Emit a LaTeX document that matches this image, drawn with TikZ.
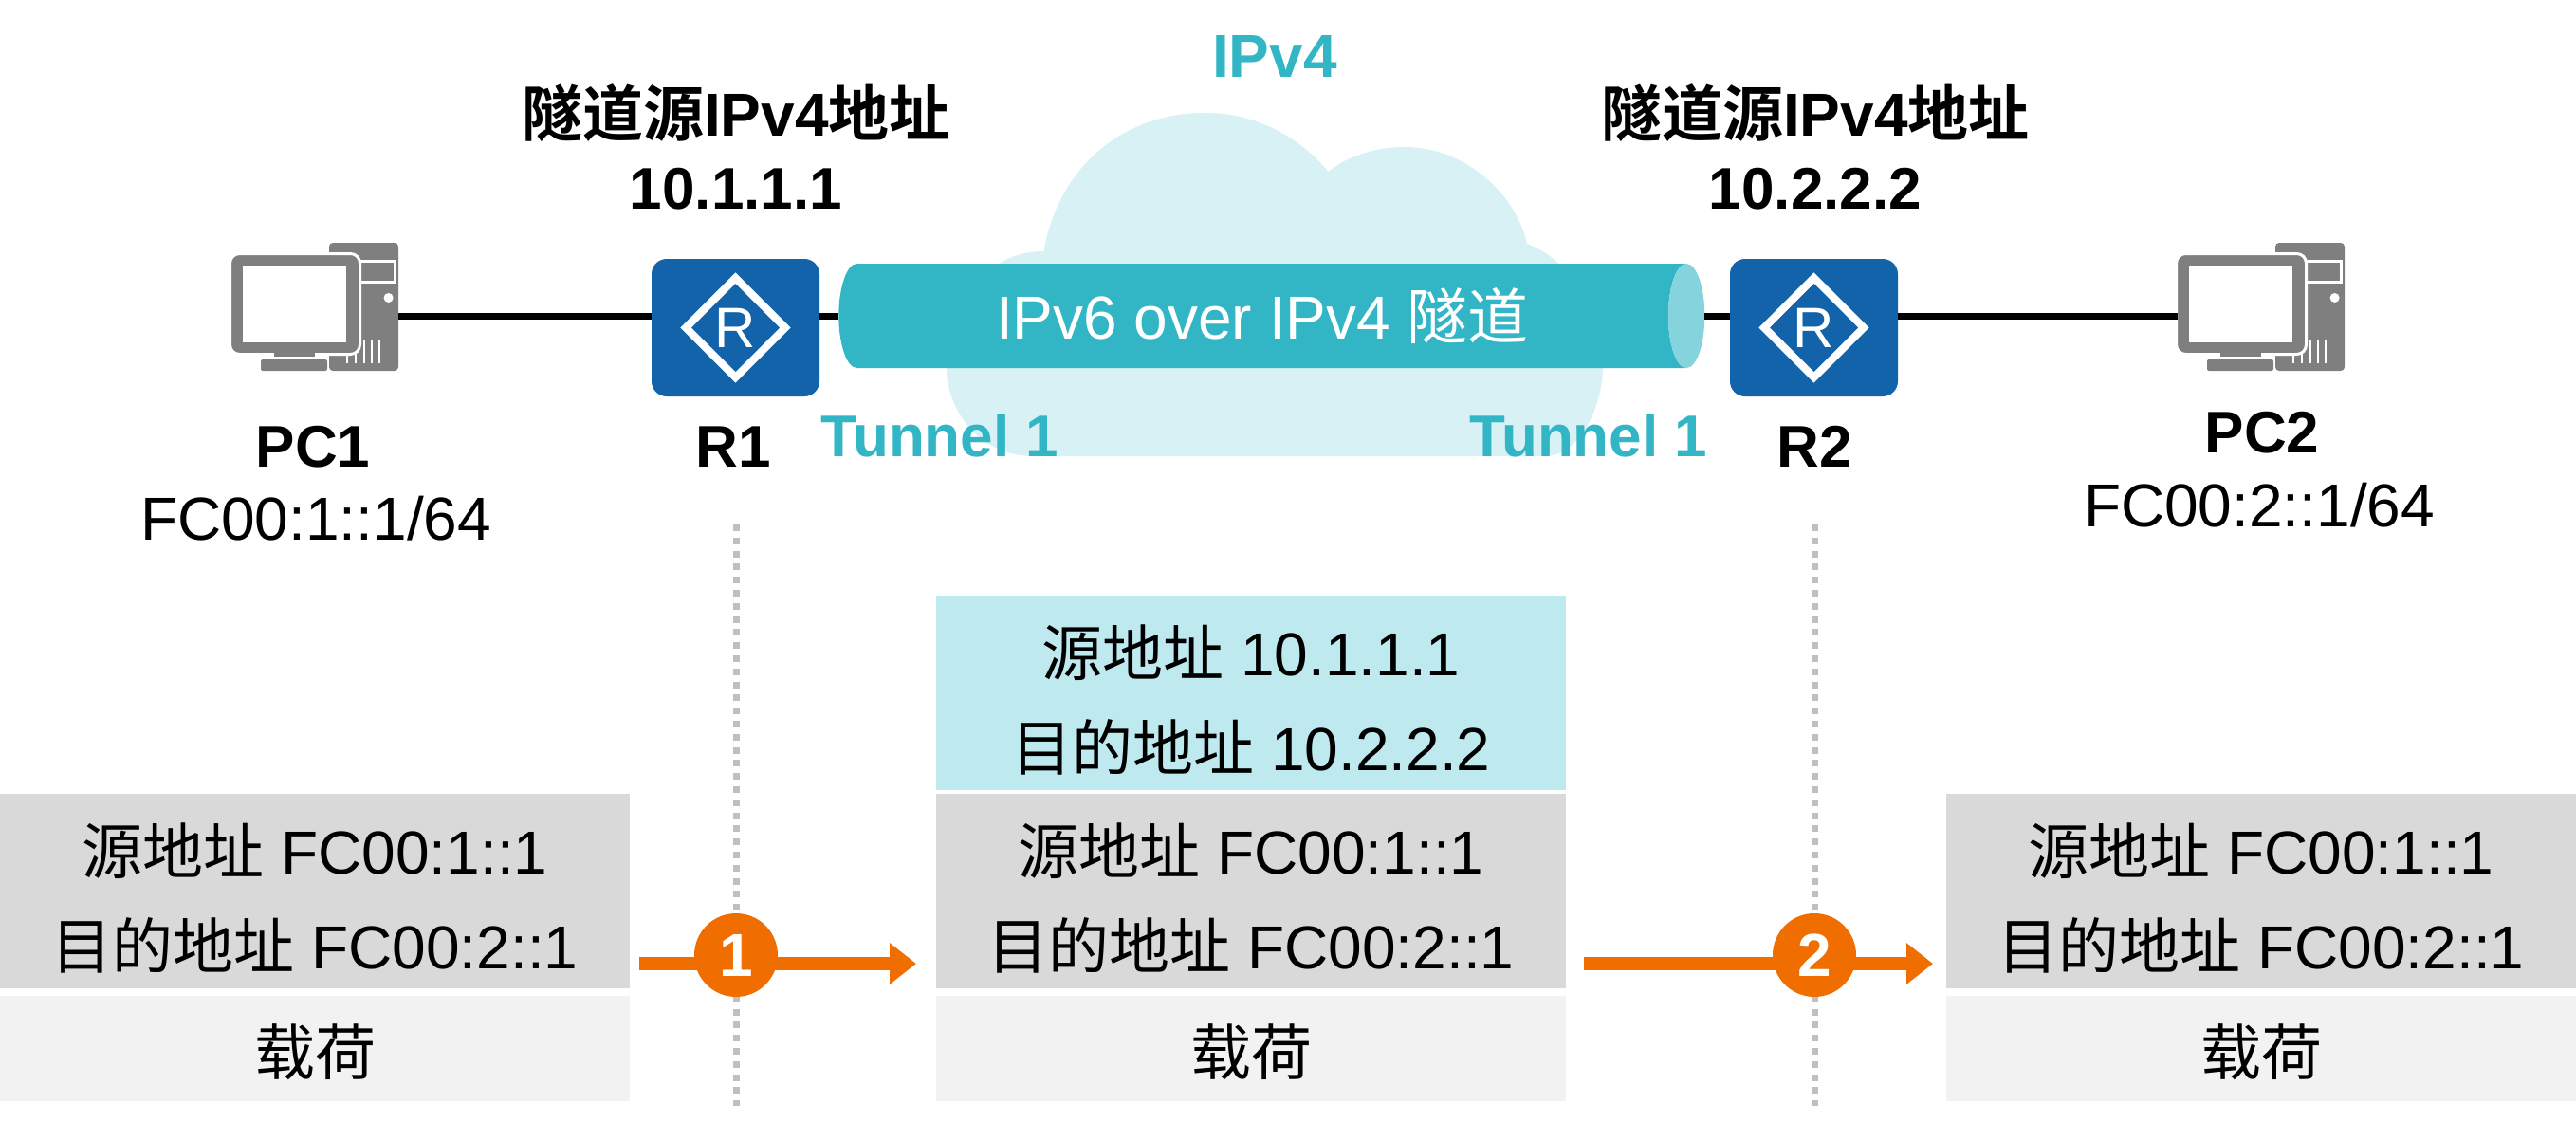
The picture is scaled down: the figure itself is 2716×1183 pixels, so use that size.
\documentclass[tikz,border=0pt]{standalone}
\usepackage{fontspec}
\usetikzlibrary{shapes.geometric,arrows.meta}
\setmainfont{Liberation Sans}
\newfontfamily\zhfont{Noto Sans CJK SC}[BoldFont=Noto Sans CJK SC Bold]
\newcommand{\zh}[1]{{\zhfont #1}}
\newcommand{\pktstrut}{\rule[-9pt]{0pt}{50pt}}
\newcommand{\loadstrut}{\rule{0pt}{31pt}}
\newcommand{\addrstrut}{\rule[-10pt]{0pt}{38.5pt}}
\definecolor{tunnelteal}{RGB}{50, 181, 197}
\definecolor{tunnelend}{RGB}{133, 211, 220}
\definecolor{cloudcyan}{RGB}{215, 241, 245}
\definecolor{outercyan}{RGB}{190, 233, 239}
\definecolor{routerblue}{RGB}{18, 99, 169}
\definecolor{pcgray}{RGB}{127, 127, 127}
\definecolor{headgray}{RGB}{217, 217, 217}
\definecolor{loadgray}{RGB}{242, 242, 242}
\definecolor{dotgray}{RGB}{191, 191, 191}
\definecolor{steporange}{RGB}{240, 110, 0}

\begin{document}
\begin{tikzpicture}[
        x=0.5pt,
        y=-0.5pt,
        every node/.style={inner sep=0pt, outer sep=0pt, font=\fontsize{32}{38.5}\selectfont},
        boldlabel/.style={anchor=base, font=\fontsize{31}{38.5}\selectfont\bfseries},
        plainlabel/.style={anchor=base},
        teallabel/.style={boldlabel, text=tunnelteal},
        addrlabel/.style={align=center, font=\fontsize{32}{38.5}\selectfont\bfseries},
        routerbox/.style={rectangle, rounded corners=8pt, fill=routerblue,
            minimum width=88.5pt, minimum height=72.5pt},
        routermark/.style={diamond, aspect=1, draw=white, line width=4pt, miter limit=10,
            minimum width=52.4pt, minimum height=52.4pt, text=white,
            font=\fontsize{30}{36}\selectfont},
        pcbox/.style={rectangle, anchor=north west, minimum width=88pt, minimum height=67.5pt},
        pcicon/.pic={
            \fill[pcgray, rounded corners=2pt] (103,0) rectangle (176,135);
            \draw[white, line width=1.5pt] (135,19) rectangle (172,41);
            \fill[white] (165.6,58) circle (5);
            \foreach \vx in {122,131,140,148,156}
                \draw[white, line width=1pt] (\vx,102) -- (\vx,127);
            \draw[fill=pcgray, draw=white, line width=1.5pt, rounded corners=5pt]
                (-1.5,11.5) rectangle (135.5,117.5);
            \fill[white] (11.5,24) rectangle (121,105);
            \fill[pcgray] (45,116) rectangle (87.5,120);
            \fill[pcgray, rounded corners=1pt] (31,123) rectangle (101,135);
        },
        tunnelpipe/.style={cylinder, shape border rotate=0, aspect=0.65,
            cylinder uses custom fill, cylinder body fill=tunnelteal, cylinder end fill=tunnelend,
            minimum width=55pt, minimum height=456.5pt, text=white},
        linkline/.style={line width=3.5pt, black},
        dotline/.style={line width=3.5pt, dotgray, dash pattern=on 3.5pt off 3.4pt},
        flowarrow/.style={line width=7pt, steporange, -{Triangle[width=21pt,length=14pt]}},
        stepdot/.style={circle, fill=steporange, minimum size=44pt, text=white,
            font=\fontsize{32}{38.5}\selectfont\bfseries},
        packetbox/.style={rectangle, minimum width=332pt, align=center,
            font=\fontsize{32}{50}\selectfont},
        outerhead/.style={packetbox, fill=outercyan, minimum height=102.5pt},
        innerhead/.style={packetbox, fill=headgray, minimum height=102.5pt},
        payload/.style={packetbox, fill=loadgray, minimum height=55.3pt}
    ]
    \useasboundingbox (0,0) rectangle (2716,1183);

    % cloud behind the tunnel
    \fill[cloudcyan] (1100.5,265) .. controls (1115,180) and (1180,119) .. (1271,119)
        .. controls (1330,119) and (1375,150) .. (1400.5,181)
        .. controls (1420,165) and (1450,155) .. (1480,155)
        .. controls (1550,155) and (1600,210) .. (1610,257)
        .. controls (1650,272) and (1690,320) .. (1690,385)
        .. controls (1690,430) and (1665,481) .. (1628,481)
        -- (1090,481) .. controls (1030,481) and (998,430) .. (998,388)
        .. controls (998,320) and (1040,265) .. (1100.5,265) -- cycle;

    \node[tunnelpipe] (tunnel) at (1331,333) {IPv6 over IPv4 \zh{隧道}};
    \node[routerbox] (r1) at (775.5,345.5) {};
    \node[routerbox] (r2) at (1912.5,345.5) {};
    \node[routermark] (r1mark) at (r1) {R};
    \node[routermark] (r2mark) at (r2) {R};
    \node[pcbox] (pc1) at (244,256) {};
    \node[pcbox] (pc2) at (2296,256) {};
    \pic at (pc1.north west) {pcicon};
    \pic at (pc2.north west) {pcicon};

    \draw[linkline] (pc1.east |- tunnel) -- (r1.west |- tunnel);
    \draw[linkline] (r1.east |- tunnel) -- (tunnel.west |- tunnel);
    \draw[linkline] (tunnel.east |- tunnel) -- (r2.west |- tunnel);
    \draw[linkline] (r2.east |- tunnel) -- (pc2.west |- tunnel);

    \node[teallabel, font=\fontsize{32}{38.5}\selectfont\bfseries] (ipv4) at (1344,81) {IPv4};
    \node[addrlabel] (r1addr) at (776,163) {\addrstrut\zh{隧道源}IPv4\zh{地址}\\\addrstrut{\fontsize{31}{38.5}\selectfont 10.1.1.1}};
    \node[addrlabel] (r2addr) at (1914,163) {\addrstrut\zh{隧道源}IPv4\zh{地址}\\\addrstrut{\fontsize{31}{38.5}\selectfont 10.2.2.2}};
    \node[teallabel] (tunnela) at (991,481.7) {Tunnel 1};
    \node[teallabel] (tunnelb) at (1675,481.7) {Tunnel 1};
    \node[boldlabel] (pc1label) at (330,492.7) {PC1};
    \node[boldlabel] (r1label) at (773,492.7) {R1};
    \node[boldlabel] (r2label) at (1913,492.7) {R2};
    \node[boldlabel] (pc2label) at (2385,477.7) {PC2};
    \node[plainlabel] (pc1addr) at (333,569.3) {FC00:1::1/64};
    \node[plainlabel] (pc2addr) at (2382,555) {FC00:2::1/64};

    \coordinate (r1top) at (776.7,553);
    \coordinate (r1end) at (776.7,1166);
    \coordinate (r2top) at (1913,553);
    \coordinate (r2end) at (1913,1166);
    \draw[dotline] (r1top) -- (r1end);
    \draw[dotline] (r2top) -- (r2end);

    % packets
    \node[innerhead] (headleft) at (332,939.5) {\pktstrut\zh{源地址} FC00:1::1\\\pktstrut\zh{目的地址} FC00:2::1};
    \node[payload] (loadleft) at (332,1105.3) {\loadstrut\zh{载荷}};
    \node[outerhead] (outermid) at (1319,730.5) {\pktstrut\zh{源地址} 10.1.1.1\\\pktstrut\zh{目的地址} 10.2.2.2};
    \node[innerhead] (headmid) at (1319,939.5) {\pktstrut\zh{源地址} FC00:1::1\\\pktstrut\zh{目的地址} FC00:2::1};
    \node[payload] (loadmid) at (1319,1105.3) {\loadstrut\zh{载荷}};
    \node[innerhead] (headright) at (2384,939.5) {\pktstrut\zh{源地址} FC00:1::1\\\pktstrut\zh{目的地址} FC00:2::1};
    \node[payload] (loadright) at (2384,1105.3) {\loadstrut\zh{载荷}};

    \coordinate (flowastart) at (674,1016);
    \coordinate (flowaend) at (966,1016);
    \coordinate (flowbstart) at (1670,1016);
    \coordinate (flowbend) at (2038,1016);
    \draw[flowarrow] (flowastart) -- (flowaend);
    \draw[flowarrow] (flowbstart) -- (flowbend);
    \node[stepdot] (stepa) at (776,1007) {1};
    \node[stepdot] (stepb) at (1913,1007) {2};
\end{tikzpicture}
\end{document}
